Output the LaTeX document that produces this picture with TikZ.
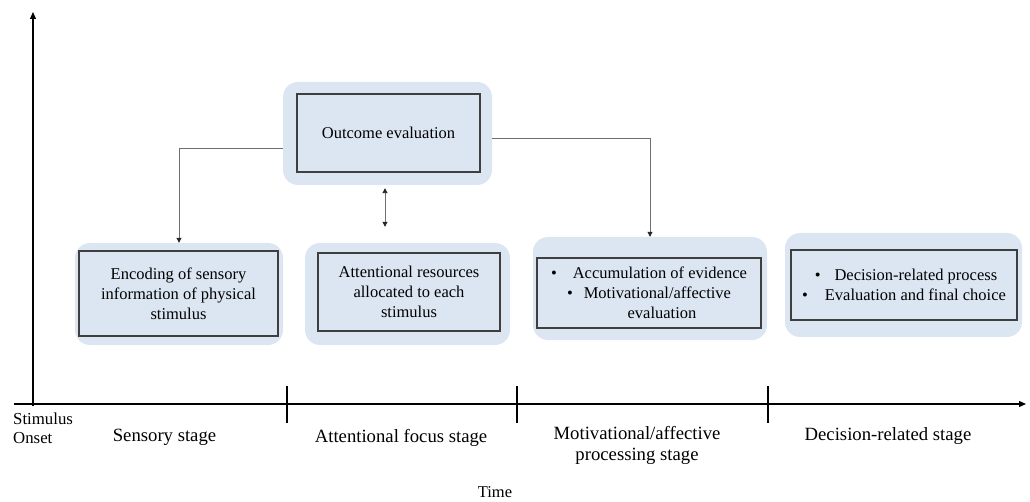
\documentclass[tikz,border=0pt]{standalone}
\usepackage{fontspec}
\setmainfont{Liberation Serif}
\usetikzlibrary{arrows.meta}
\definecolor{boxblue}{HTML}{DCE6F2}
\definecolor{boxline}{HTML}{3F3F3F}
\definecolor{connline}{HTML}{6F6F6F}
\tikzset{
  outerbox/.style={rounded corners=15pt, fill=boxblue, draw=none, inner sep=0pt},
  innerbox/.style={draw=boxline, line width=1.3pt, fill=boxblue, inner sep=0pt, align=center,
     font=\fontsize{16.5}{20}\selectfont},
  tip/.style={Triangle[length=5pt,width=5pt,color=black!85]},
  conn/.style={draw=connline, line width=0.9pt, -{Triangle[length=5pt,width=5pt,color=black!85]}},
  dconn/.style={draw=connline, line width=0.9pt, {Triangle[length=5pt,width=5pt,color=black!85]}-{Triangle[length=5pt,width=5pt,color=black!85]}},
  axis/.style={draw=black, line width=1.2pt},
  lbl/.style={align=center, inner sep=0pt, font=\fontsize{16.5}{20}\selectfont},
  stagelbl/.style={align=center, inner sep=0pt, font=\fontsize{18.7}{21}\selectfont},
}
\begin{document}
\begin{tikzpicture}[x=1pt,y=-1pt]
\useasboundingbox (0,0) rectangle (1030,502);
% outer rounded backgrounds
\node[outerbox, minimum width=209pt, minimum height=103pt] (oeo) at (387.5,133.5) {};
\node[outerbox, minimum width=208pt, minimum height=102pt] (enco) at (179,294) {};
\node[outerbox, minimum width=205pt, minimum height=102pt] (atto) at (407.5,294) {};
\node[outerbox, minimum width=234pt, minimum height=103pt] (moto) at (650,288.5) {};
\node[outerbox, minimum width=237pt, minimum height=104pt] (deco) at (903.5,285) {};
% inner boxes
\node[innerbox, minimum width=183pt, minimum height=78pt] (oei) at (388.5,133) {Outcome evaluation};
\node[innerbox, minimum width=199pt, minimum height=85pt] (enci) at (178.5,293.5)
  {Encoding of sensory\\information of physical\\stimulus};
\node[innerbox, minimum width=182pt, minimum height=78pt] (atti) at (409,292)
  {Attentional resources\\allocated to each\\stimulus};
\node[innerbox, minimum width=224pt, minimum height=70pt] (moti) at (649,293)
  {\textbullet\hspace{16pt}Accumulation of evidence\\
   \textbullet\hspace{11pt}Motivational/affective\\
   \hspace{26pt}evaluation};
\node[innerbox, minimum width=226pt, minimum height=70pt] (deci) at (904,285)
  {\hspace{4pt}\textbullet\hspace{14pt}Decision-related process\\
   \textbullet\hspace{17pt}Evaluation and final choice};
% connectors
\draw[conn] ([yshift=-14.5pt]oeo.west) -| (enco.north);
\draw[conn] ([yshift=-4.5pt]oeo.east) -| (moto.north);
\draw[dconn] ([xshift=-2.5pt,yshift=-3pt]oeo.south) -- ([xshift=-22.5pt,yshift=16pt]atto.north);
% axes
\coordinate (vb) at (33,406);
\coordinate (vt) at (33,12);
\coordinate (hl) at (14,404);
\coordinate (hr) at (1026,404);
\draw[axis, -{Triangle[length=7pt,width=6pt]}] (vb) -- (vt);
\draw[axis, -{Triangle[length=7pt,width=6pt]}] (hl) -- (hr);
\foreach \tx/\nm in {287/ta, 517/tb, 768/tc}{
  \coordinate (\nm1) at (\tx,386);
  \coordinate (\nm2) at (\tx,423);
  \draw[axis] (\nm1) -- (\nm2);
}
% labels
\node[lbl, anchor=north west, align=left, font=\fontsize{16.8}{19}\selectfont] (onset) at (13,413) {Stimulus\\Onset};
\node[stagelbl] (sens) at (164.5,437) {Sensory stage};
\node[stagelbl] (attn) at (401,438) {Attentional focus stage};
\node[stagelbl] (motl) at (637,445) {Motivational/affective\\processing stage};
\node[stagelbl] (decl) at (888,436) {Decision-related stage};
\node[lbl] (time) at (495,492) {Time};
\end{tikzpicture}
\end{document}
